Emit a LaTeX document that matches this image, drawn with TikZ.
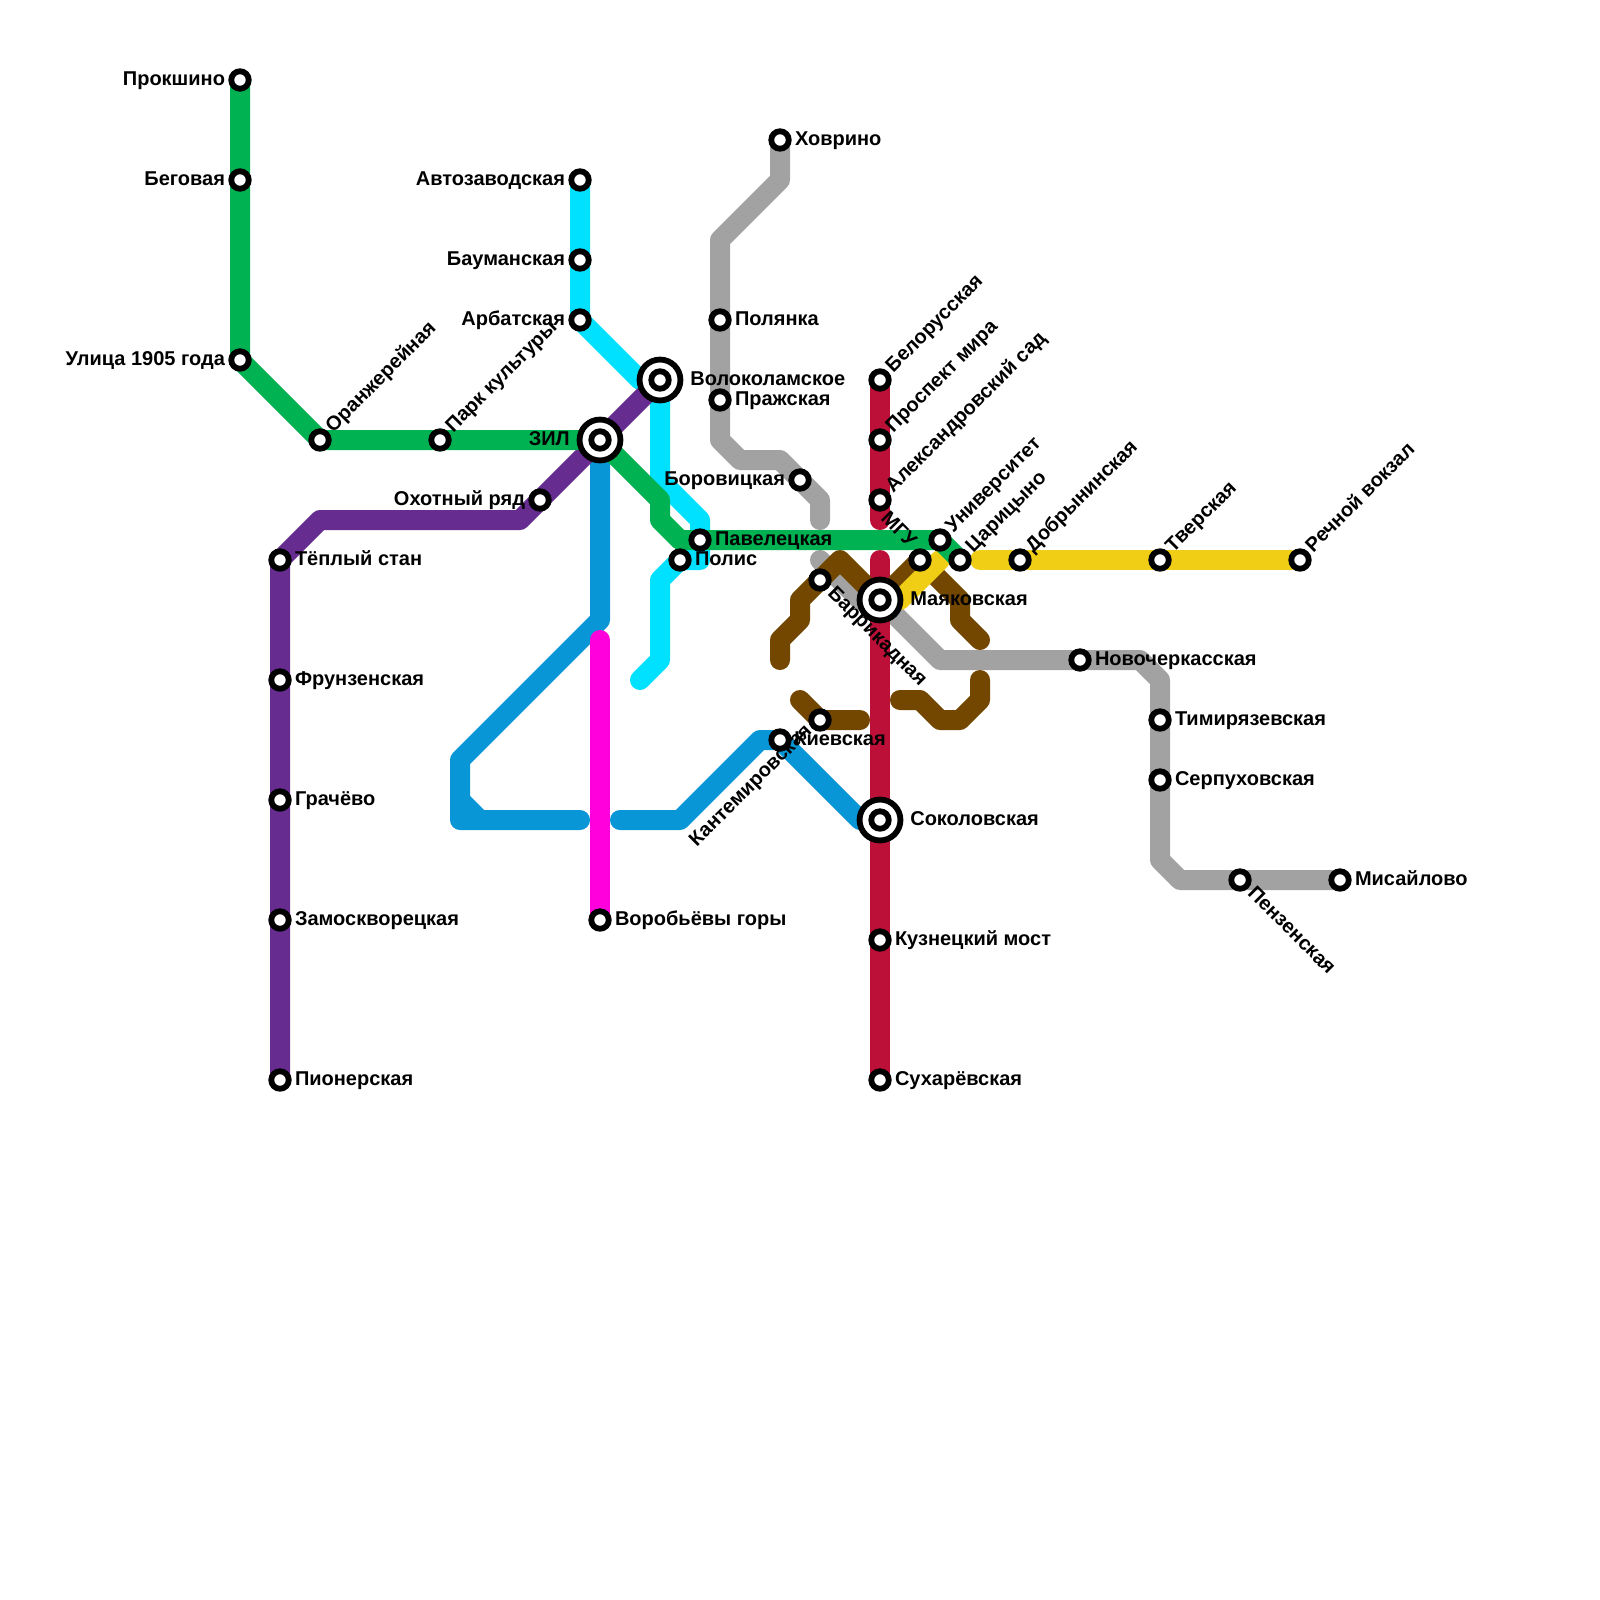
\documentclass[tikz,border=0pt]{standalone}
\usepackage{fontspec}
\setmainfont{Liberation Sans}
\usepackage{tikz}
\usetikzlibrary{backgrounds}
\definecolor{linegreen}{HTML}{00B251}
\definecolor{linepurple}{HTML}{662C90}
\definecolor{linecyan}{HTML}{00E1FF}
\definecolor{lineblue}{HTML}{0896D7}
\definecolor{linepink}{HTML}{FF00DC}
\definecolor{linegray}{HTML}{A2A2A2}
\definecolor{linered}{HTML}{BD1038}
\definecolor{linebrown}{HTML}{734700}
\definecolor{lineyellow}{HTML}{F0CE15}
\tikzset{
  metro/.style={line width=10pt,line cap=round,line join=round},
  stn/.style={circle,draw=black,fill=white,line width=2.9pt,minimum size=8.75pt,inner sep=0pt,outer sep=2.93pt},
  hub/.style={circle,draw=black,fill=white,line width=2.9pt,minimum size=20.45pt,inner sep=0pt,outer sep=4.73pt},
  lbl/.style={font=\bfseries\fontsize{10}{10}\selectfont,inner sep=0pt,text height=7.2pt,text depth=2pt},
  lblup/.style={lbl,xshift=-0.5pt,rotate=45,anchor=west},
  lbldown/.style={lbl,rotate=-45,anchor=west},
}
\begin{document}
\begin{tikzpicture}[x=0.5pt,y=-0.5pt]
  \useasboundingbox (0,0) rectangle (1600,1600);

  % green line
  \node[stn,label={[lbl]left:Прокшино}] (prokshino) at (240,80) {};
  \node[stn,label={[lbl]left:Беговая}] (begovaya) at (240,180) {};
  \node[stn,label={[lbl]left:Улица 1905 года}] (ulitsa) at (240,360) {};
  \node[stn,label={[lblup]45:Оранжерейная}] (oranzh) at (320,440) {};
  \node[stn,label={[lblup]45:Парк культуры}] (park) at (440,440) {};
  \node[hub,label={[lbl]left:ЗИЛ}] (zil) at (600,440) {};
  \node[stn] (zilcore) at (zil) {};
  \node[stn,label={[lbl]right:Павелецкая}] (pavel) at (700,540) {};
  \node[stn,label={[lblup]45:Университет}] (univer) at (940,540) {};
  \node[stn,label={[lblup]45:Царицыно}] (tsar) at (960,560) {};

  % purple line
  \node[stn,label={[lbl]right:Пионерская}] (pioner) at (280,1080) {};
  \node[stn,label={[lbl]right:Замоскворецкая}] (zamosk) at (280,920) {};
  \node[stn,label={[lbl]right:Грачёво}] (grachev) at (280,800) {};
  \node[stn,label={[lbl]right:Фрунзенская}] (frunz) at (280,680) {};
  \node[stn,label={[lbl]right:Тёплый стан}] (teply) at (280,560) {};
  \node[stn,label={[lbl]left:Охотный ряд}] (okhot) at (540,500) {};
  \node[hub,label={[lbl]right:Волоколамское}] (volok) at (660,380) {};
  \node[stn] (volokcore) at (volok) {};

  % cyan line
  \node[stn,label={[lbl]left:Автозаводская}] (avto) at (580,180) {};
  \node[stn,label={[lbl]left:Бауманская}] (bauman) at (580,260) {};
  \node[stn,label={[lbl]left:Арбатская}] (arbat) at (580,320) {};
  \node[stn,label={[lbl]right:Полис}] (polis) at (680,560) {};

  % blue line
  \node[stn,label={[lbl,xshift=-14.5pt,yshift=-23pt,rotate=45,anchor=center]center:Кантемировская}] (kantem) at (780,740) {};
  \node[hub,label={[lbl]right:Соколовская}] (sokol) at (880,820) {};
  \node[stn] (sokolcore) at (sokol) {};

  % pink line
  \node[stn,label={[lbl]right:Воробьёвы горы}] (vorob) at (600,920) {};

  % gray line
  \node[stn,label={[lbl]right:Ховрино}] (khovr) at (780,140) {};
  \node[stn,label={[lbl]right:Полянка}] (polyan) at (720,320) {};
  \node[stn,label={[lbl]right:Пражская}] (prazh) at (720,400) {};
  \node[stn,label={[lbl]left:Боровицкая}] (borov) at (800,480) {};
  \node[stn,label={[lbl]right:Новочеркасская}] (novo) at (1080,660) {};
  \node[stn,label={[lbl]right:Тимирязевская}] (timir) at (1160,720) {};
  \node[stn,label={[lbl]right:Серпуховская}] (serp) at (1160,780) {};
  \node[stn,label={[lbldown]-45:Пензенская}] (penz) at (1240,880) {};
  \node[stn,label={[lbl]right:Мисайлово}] (misai) at (1340,880) {};

  % red line
  \node[stn,label={[lblup]45:Белорусская}] (belor) at (880,380) {};
  \node[stn,label={[lblup]45:Проспект мира}] (prosp) at (880,440) {};
  \node[stn,label={[lblup]45:Александровский сад}] (alex) at (880,500) {};
  \node[hub,label={[lbl]right:Маяковская}] (mayak) at (880,600) {};
  \node[stn] (mayakcore) at (mayak) {};
  \node[stn,label={[lbl]right:Кузнецкий мост}] (kuzn) at (880,940) {};
  \node[stn,label={[lbl]right:Сухарёвская}] (sukh) at (880,1080) {};

  % brown line
  \node[stn,label={[lbldown]-45:Баррикадная}] (barrik) at (820,580) {};
  \node[stn,label={[lbl,xshift=1.5pt,yshift=2.5pt,rotate=-45,anchor=east]135:МГУ}] (mgu) at (920,560) {};
  \node[stn,label={[lbl,xshift=10pt,yshift=2pt]below:Киевская}] (kiev) at (820,720) {};

  % yellow line
  \node[stn,label={[lblup]45:Добрынинская}] (dobry) at (1020,560) {};
  \node[stn,label={[lblup]45:Тверская}] (tver) at (1160,560) {};
  \node[stn,label={[lblup]45:Речной вокзал}] (rechn) at (1300,560) {};

  % bends and free ends
  \coordinate (gA) at (660,500);
  \coordinate (gB) at (660,520);
  \coordinate (gC) at (680,540);
  \coordinate (pA) at (320,520);
  \coordinate (pB) at (520,520);
  \coordinate (cA) at (640,380);
  \coordinate (cB) at (660,480);
  \coordinate (cC) at (700,520);
  \coordinate (cD) at (700,560);
  \coordinate (cE) at (660,580);
  \coordinate (cF) at (660,660);
  \coordinate (cG) at (640,680);
  \coordinate (bA) at (600,620);
  \coordinate (bB) at (460,760);
  \coordinate (bC) at (460,820);
  \coordinate (bD) at (580,820);
  \coordinate (bE) at (460,800);
  \coordinate (bF) at (480,820);
  \coordinate (bG) at (620,820);
  \coordinate (bH) at (680,820);
  \coordinate (bI) at (760,740);
  \coordinate (bJ) at (860,820);
  \coordinate (mA) at (600,640);
  \coordinate (sA) at (780,180);
  \coordinate (sB) at (720,240);
  \coordinate (sC) at (720,440);
  \coordinate (sD) at (740,460);
  \coordinate (sE) at (780,460);
  \coordinate (sF) at (820,500);
  \coordinate (sG) at (820,520);
  \coordinate (sH) at (820,560);
  \coordinate (sI) at (860,600);
  \coordinate (sJ) at (940,660);
  \coordinate (sK) at (1140,660);
  \coordinate (sL) at (1160,680);
  \coordinate (sM) at (1160,860);
  \coordinate (sN) at (1180,880);
  \coordinate (rA) at (880,520);
  \coordinate (rB) at (880,560);
  \coordinate (brA) at (780,660);
  \coordinate (brB) at (780,640);
  \coordinate (brC) at (800,620);
  \coordinate (brD) at (800,600);
  \coordinate (brE) at (840,560);
  \coordinate (brF) at (960,600);
  \coordinate (brG) at (960,620);
  \coordinate (brH) at (980,640);
  \coordinate (brI) at (800,700);
  \coordinate (brJ) at (860,720);
  \coordinate (brK) at (900,700);
  \coordinate (brL) at (920,700);
  \coordinate (brM) at (940,720);
  \coordinate (brN) at (960,720);
  \coordinate (brO) at (980,700);
  \coordinate (brP) at (980,680);
  \coordinate (yA) at (900,600);
  \coordinate (yB) at (940,560);
  \coordinate (yC) at (980,560);

  \begin{pgfonlayer}{background}
    \draw[metro,linegray] (khovr.center) -- (sA) -- (sB) -- (polyan.center) -- (prazh.center) -- (sC) -- (sD) -- (sE) -- (borov.center) -- (sF) -- (sG);
    \draw[metro,linegray] (sH) -- (sI) -- (mayak.center) -- (sJ) -- (novo.center) -- (sK) -- (sL) -- (timir.center) -- (serp.center) -- (sM) -- (sN) -- (penz.center) -- (misai.center);
    \draw[metro,linered] (belor.center) -- (prosp.center) -- (alex.center) -- (rA);
    \draw[metro,linered] (rB) -- (mayak.center) -- (sokol.center) -- (kuzn.center) -- (sukh.center);
    \draw[metro,linebrown] (brA) -- (brB) -- (brC) -- (brD) -- (barrik.center) -- (brE) -- (mayak.center) -- (mgu.center) -- (brF) -- (brG) -- (brH);
    \draw[metro,linebrown] (brI) -- (kiev.center) -- (brJ);
    \draw[metro,linebrown] (brK) -- (brL) -- (brM) -- (brN) -- (brO) -- (brP);
    \draw[metro,lineyellow] (mayak.center) -- (yA) -- (yB);
    \draw[metro,lineyellow] (yC) -- (dobry.center) -- (tver.center) -- (rechn.center);
    \draw[metro,linecyan] (avto.center) -- (bauman.center) -- (arbat.center) -- (cA) -- (volok.center) -- (cB) -- (cC) -- (pavel.center) -- (cD) -- (polis.center) -- (cE) -- (cF) -- (cG);
    \draw[metro,lineblue] (zil.center) -- (bA) -- (bB) -- (bC) -- (bD);
    \draw[metro,lineblue] (bE) -- (bF);
    \draw[metro,lineblue] (bG) -- (bH) -- (bI) -- (kantem.center) -- (bJ) -- (sokol.center);
    \draw[metro,linepink] (mA) -- (vorob.center);
    \draw[metro,linepurple] (pioner.center) -- (zamosk.center) -- (grachev.center) -- (frunz.center) -- (teply.center) -- (pA) -- (pB) -- (okhot.center) -- (zil.center) -- (volok.center);
    \draw[metro,linegreen] (prokshino.center) -- (begovaya.center) -- (ulitsa.center) -- (oranzh.center) -- (park.center) -- (zil.center) -- (gA) -- (gB) -- (gC) -- (pavel.center) -- (univer.center) -- (tsar.center);
  \end{pgfonlayer}
\end{tikzpicture}
\end{document}
